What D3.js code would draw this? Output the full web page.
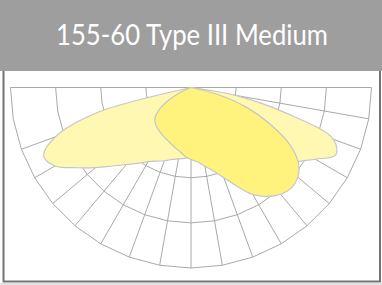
<!DOCTYPE html>
<html>
<head>
<meta charset="utf-8">
<script src="https://cdn.jsdelivr.net/npm/d3@7"></script>
<style>
  html, body { margin: 0; padding: 0; background: #fff; }
  svg { display: block; }
</style>
</head>
<body>
<div id="js_chart"></div>
<script>
// Chart data: relative intensity (0-100) per vertical angle,
// angle measured from nadir, negative = left, positive = right
var title = "155-60 Type III Medium";
var angles = [-90, -85, -80, -75, -70, -65, -60, -55, -50, -45, -40, -35, -30, -25, -20, -15, -10, -5,
              0, 5, 10, 15, 20, 25, 30, 35, 40, 45, 50, 55, 60, 65, 70, 75, 80, 85, 90];
// pale lobe (wide plane)
var planeA = [0, 0, 0, 54, 80, 90, 87, 77.5, 69, 61.5, 55.7, 51.3, 47.4, 45, 43.2, 41.3, 40.2, 39.4,
              38.8, 39, 39.4, 40.5, 42.7, 46, 50.5, 55.5, 61, 66, 69.3, 72, 79.5, 88.5, 84, 54.3, 25, 0, 0];
// bright lobe (forward plane)
var planeB = [0, 0, 0, 0, 0, 7.2, 15, 21.6, 26, 28, 29.1, 30, 30.9, 31.8, 33, 34.4, 36, 38.2,
              39.9, 41.3, 44.3, 47.9, 53.2, 60.4, 68.4, 73.7, 77.2, 78.7, 77.3, 72.6, 63.2, 48.8, 33.8, 16.6, 0, 0, 0];
var ringValues = [25, 50, 75, 100];
var gridAngles = [-90, -80, -70, -60, -50, -40, -30, -20, -10, 0, 10, 20, 30, 40, 50, 60, 70, 80, 90];
var spokeAngles = [-90, -70, -60, -50, -40, -30, -20, -10, 0, 10, 20, 30, 40, 50, 60, 70, 80, 90];

var width = 382, height = 285;
var cx = 191, cy = 87.5, R = 180.5;

var svg = d3.select("#js_chart").append("svg")
    .attr("width", width)
    .attr("height", height);

// header band
svg.append("rect")
    .attr("x", 0).attr("y", 0)
    .attr("width", width).attr("height", 71)
    .attr("fill", "#9e9e9e");

var t = svg.append("text")
    .attr("x", 192).attr("y", 45)
    .attr("text-anchor", "middle")
    .attr("fill", "#ffffff")
    .style("font-family", "Lato, 'Open Sans', sans-serif")
    .style("font-size", "28px")
    .text(title);
// squeeze to the reference width
if (t.node().getComputedTextLength() > 272) {
    t.attr("textLength", 272).attr("lengthAdjust", "spacingAndGlyphs");
}

// frame
svg.append("rect")
    .attr("x", 0).attr("y", 283)
    .attr("width", width).attr("height", 2)
    .attr("fill", "#e2e2e2");
svg.append("path")
    .attr("d", "M3.5,71 V281.5 H380 V71")
    .attr("fill", "none")
    .attr("stroke", "#747474")
    .attr("stroke-width", 2);

var r = d3.scaleLinear().domain([0, 100]).range([0, R]);
var rad = function (deg) { return Math.PI - deg * Math.PI / 180; };

var g = svg.append("g").attr("transform", "translate(" + cx + "," + cy + ")");

// rings (polygonal between spokes)
var ringLine = d3.lineRadial()
    .angle(function (d) { return rad(d[0]); })
    .radius(function (d) { return r(d[1]); });

ringValues.forEach(function (v) {
    g.append("path")
        .attr("d", ringLine(gridAngles.map(function (a) { return [a, v]; })))
        .attr("fill", "none")
        .attr("stroke", "#a9a9a9")
        .attr("stroke-width", 1);
});

spokeAngles.forEach(function (a) {
    g.append("line")
        .attr("x1", 0).attr("y1", 0)
        .attr("x2", r(100) * Math.sin(a * Math.PI / 180))
        .attr("y2", r(100) * Math.cos(a * Math.PI / 180))
        .attr("stroke", "#a9a9a9")
        .attr("stroke-width", 1);
});

// lobes
var lobeLine = d3.lineRadial()
    .angle(function (d) { return rad(d[0]); })
    .radius(function (d) { return r(d[1]); })
    .curve(d3.curveCatmullRom);

function lobePoints(values) {
    var pts = [];
    angles.forEach(function (a, i) {
        var v = values[i];
        var prev = pts[pts.length - 1];
        if (v === 0 && prev && prev[1] === 0) { return; }
        pts.push([a, v]);
    });
    // trim leading/trailing zeros down to a single centre point
    while (pts.length > 1 && pts[0][1] === 0 && pts[1][1] === 0) pts.shift();
    return pts;
}

[[planeA, "#fff8b3"], [planeB, "#fff37e"]].forEach(function (p) {
    g.append("path")
        .attr("d", lobeLine(lobePoints(p[0])) + "Z")
        .attr("fill", p[1])
        .attr("stroke", "#c6c6c6")
        .attr("stroke-width", 1.2);
});
</script>
</body>
</html>
